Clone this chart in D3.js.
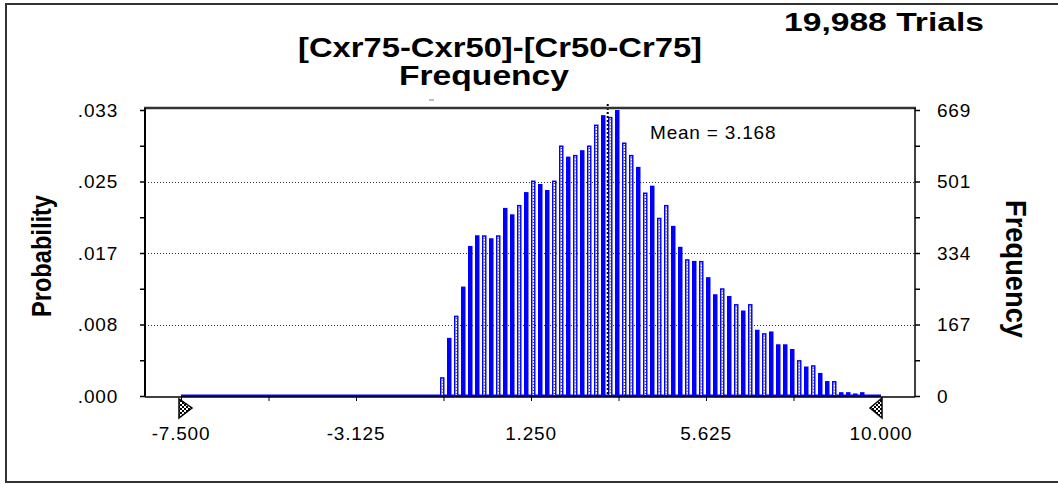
<!DOCTYPE html>
<html>
  <head>
    <meta charset="utf-8">
    <script type="text/javascript" src="https://cdn.jsdelivr.net/npm/d3@7"></script>
    <style>
      body { margin: 0; background: #fff; }
      text { font-family: "Liberation Sans", Arial, sans-serif; fill: #000; }
      .tick-label { font-size: 19px; letter-spacing: 0.8px; }
      .narrow { font-family: "Liberation Sans Narrow", "Liberation Sans", Arial, sans-serif; font-weight: bold; }
    </style>
  </head>
  <body>
    <script type="text/javascript">
      // Simulation summary
      var trials = 19988;
      var chartTitle = "[Cxr75-Cxr50]-[Cr50-Cr75]";
      var chartSubtitle = "Frequency";
      var meanValue = 3.168;

      // 100 bins of width 0.175 from -7.500 to 10.000
      var binStart = -7.5;
      var binEnd = 10;
      var binWidth = 0.175;
      var frequency = [
        0, 0, 0, 0, 0, 0, 0, 0, 0, 0,
        0, 0, 0, 0, 0, 0, 0, 0, 0, 0,
        0, 0, 0, 0, 0, 0, 0, 0, 0, 0,
        0, 0, 0, 0, 0, 0, 0,
        44, 136, 188, 256, 351, 376, 376, 369, 376, 440,
        425, 447, 477, 504, 496, 482, 504, 586, 560, 564,
        575, 586, 635, 657, 653, 669, 593, 564, 536, 476,
        492, 417, 447, 398, 349, 320, 316, 316, 278, 238,
        252, 234, 215, 200, 215, 155, 147, 151, 121, 121,
        110, 84, 69, 72, 54, 35, 35, 9, 9, 6,
        9, 2, 0
      ];

      // Axis labels
      var xTickValues = [-7.5, -3.125, 1.25, 5.625, 10];
      var xTickLabels = ["-7.500", "-3.125", "1.250", "5.625", "10.000"];
      var freqMax = 669;
      var freqLabels = ["0", "167", "334", "501", "669"];
      var probLabels = [".000", ".008", ".017", ".025", ".033"];

      // Bars that the original renders hollow (bin indices)
      var hollowBins = [37, 39, 43, 45, 48, 50, 53, 54, 56, 58, 59, 61, 63, 64,
                        66, 68, 69, 72, 74, 77, 79, 81, 83, 88, 90, 93];

      var width = 1058;
      var height = 484;
      var plot = { left: 145, right: 915, top: 108, bottom: 397 };

      var svg = d3.select("body")
                  .append("svg")
                  .attr("width", width)
                  .attr("height", height);

      // Checkered fill for the range markers
      var pat = svg.append("defs")
                   .append("pattern")
                   .attr("id", "checker")
                   .attr("width", 4)
                   .attr("height", 4)
                   .attr("patternUnits", "userSpaceOnUse");
      pat.append("rect").attr("width", 4).attr("height", 4).attr("fill", "#fff");
      pat.append("rect").attr("width", 2).attr("height", 2).attr("fill", "#000");
      pat.append("rect").attr("x", 2).attr("y", 2).attr("width", 2).attr("height", 2).attr("fill", "#000");

      // Outer frame
      svg.append("rect")
         .attr("x", 6)
         .attr("y", 4)
         .attr("width", width)
         .attr("height", 478)
         .attr("fill", "none")
         .attr("stroke", "#333")
         .attr("stroke-width", 2);

      // Scales
      var x = d3.scaleLinear()
                .domain([binStart, binEnd])
                .range([181, 881]);
      var y = d3.scaleLinear()
                .domain([0, freqMax])
                .range([396, 110]);

      // Tick positions: 8 intervals, labels on every second one
      var yTicks = d3.range(9).map(function(i) { return freqMax * i / 8; });
      var xTicks = d3.range(9).map(function(i) { return binStart + (binEnd - binStart) * i / 8; });

      // Dotted gridlines
      svg.append("g")
         .selectAll("line")
         .data([yTicks[2], yTicks[4], yTicks[6]])
         .enter()
         .append("line")
         .attr("x1", plot.left)
         .attr("x2", plot.right)
         .attr("y1", function(d) { return Math.round(y(d)) + 0.5; })
         .attr("y2", function(d) { return Math.round(y(d)) + 0.5; })
         .attr("stroke", "#333")
         .attr("stroke-width", 1)
         .attr("stroke-dasharray", "1,2");

      // Blue line along the bottom (empty bins)
      svg.append("rect")
         .attr("x", x(binStart))
         .attr("y", 394.5)
         .attr("width", x(binEnd) - x(binStart))
         .attr("height", 2.5)
         .attr("fill", "#0000ff");

      // Bars
      var barW = 4.5;
      var bins = frequency.map(function(v, i) { return { i: i, v: v }; })
                          .filter(function(d) { return d.v > 0; });

      svg.append("g")
         .selectAll("rect")
         .data(bins)
         .enter()
         .append("rect")
         .attr("x", function(d) { return x(binStart + d.i * binWidth); })
         .attr("y", function(d) { return y(d.v); })
         .attr("width", barW)
         .attr("height", function(d) { return y(0) - y(d.v); })
         .attr("fill", "#0000ff");

      // Hollow look for some bars: white core with dark dots
      var hollow = bins.filter(function(d) { return hollowBins.indexOf(d.i) >= 0; });
      var inner = svg.append("g").selectAll("g")
                     .data(hollow)
                     .enter()
                     .append("g");
      inner.append("line")
           .attr("x1", function(d) { return x(binStart + d.i * binWidth) + barW / 2; })
           .attr("x2", function(d) { return x(binStart + d.i * binWidth) + barW / 2; })
           .attr("y1", function(d) { return y(d.v) + 1.5; })
           .attr("y2", y(0) - 1)
           .attr("stroke", "#fff")
           .attr("stroke-width", 1.6);
      inner.append("line")
           .attr("x1", function(d) { return x(binStart + d.i * binWidth) + barW / 2; })
           .attr("x2", function(d) { return x(binStart + d.i * binWidth) + barW / 2; })
           .attr("y1", function(d) { return y(d.v) + 2.5; })
           .attr("y2", y(0) - 1)
           .attr("stroke", "#111")
           .attr("stroke-width", 1)
           .attr("stroke-dasharray", "1,2");

      // Mean line
      svg.append("line")
         .attr("x1", x(meanValue))
         .attr("x2", x(meanValue))
         .attr("y1", 104)
         .attr("y2", y(0))
         .attr("stroke", "#000")
         .attr("stroke-width", 2)
         .attr("stroke-dasharray", "2,2");

      svg.append("text")
         .attr("class", "tick-label")
         .attr("x", 650)
         .attr("y", 139)
         .text("Mean = " + meanValue.toFixed(3));

      // Plot frame
      svg.append("line")
         .attr("x1", plot.left - 1).attr("x2", plot.right + 1)
         .attr("y1", plot.top).attr("y2", plot.top)
         .attr("stroke", "#333").attr("stroke-width", 2.5);
      svg.append("line")
         .attr("x1", plot.left).attr("x2", plot.left)
         .attr("y1", plot.top).attr("y2", plot.bottom)
         .attr("stroke", "#000").attr("stroke-width", 2);
      svg.append("line")
         .attr("x1", plot.right).attr("x2", plot.right)
         .attr("y1", plot.top).attr("y2", plot.bottom)
         .attr("stroke", "#000").attr("stroke-width", 1.5);
      svg.append("line")
         .attr("x1", plot.left).attr("x2", plot.right)
         .attr("y1", plot.bottom).attr("y2", plot.bottom)
         .attr("stroke", "#000").attr("stroke-width", 1.5);

      // small stray mark under the subtitle
      svg.append("line")
         .attr("x1", 429).attr("x2", 434)
         .attr("y1", 100).attr("y2", 100)
         .attr("stroke", "#aaa").attr("stroke-width", 1.5);

      // Left axis: probability
      var yAxisLeft = d3.axisLeft(y)
                        .tickValues(yTicks)
                        .tickSize(5)
                        .tickPadding(22)
                        .tickFormat(function(d, i) { return i % 2 === 0 ? probLabels[i / 2] : ""; });
      svg.append("g")
         .attr("transform", "translate(" + plot.left + ",0)")
         .call(yAxisLeft)
         .call(function(g) { g.select(".domain").remove(); })
         .call(function(g) {
           g.selectAll("line").attr("stroke", "#000").attr("stroke-width", 1.5);
           g.selectAll("text").attr("class", "tick-label").attr("font-family", null).attr("font-size", null);
         });

      // Right axis: frequency
      var yAxisRight = d3.axisRight(y)
                         .tickValues(yTicks)
                         .tickSize(5)
                         .tickPadding(17)
                         .tickFormat(function(d, i) { return i % 2 === 0 ? freqLabels[i / 2] : ""; });
      svg.append("g")
         .attr("transform", "translate(" + plot.right + ",0)")
         .call(yAxisRight)
         .call(function(g) { g.select(".domain").remove(); })
         .call(function(g) {
           g.selectAll("line").attr("stroke", "#000").attr("stroke-width", 1.5);
           g.selectAll("text").attr("class", "tick-label").attr("font-family", null).attr("font-size", null);
         });

      // Bottom axis
      var xAxis = d3.axisBottom(x)
                    .tickValues(xTicks)
                    .tickSize(4)
                    .tickFormat("");
      svg.append("g")
         .attr("transform", "translate(0," + plot.bottom + ")")
         .call(xAxis)
         .call(function(g) { g.select(".domain").remove(); })
         .call(function(g) { g.selectAll("line").attr("stroke", "#000"); });

      svg.append("g")
         .selectAll("text")
         .data(xTickValues)
         .enter()
         .append("text")
         .attr("class", "tick-label")
         .attr("x", function(d) { return x(d); })
         .attr("y", 440)
         .attr("text-anchor", "middle")
         .text(function(d, i) { return xTickLabels[i]; });

      // Range markers
      var markers = [
        [[x(binStart) - 2, 399], [x(binStart) - 2, 418], [x(binStart) + 11, 408]],
        [[x(binEnd) + 1, 398], [x(binEnd) + 1, 418], [x(binEnd) - 11, 408]]
      ];
      svg.append("g")
         .selectAll("path")
         .data(markers)
         .enter()
         .append("path")
         .attr("d", function(d) { return d3.line()(d) + "Z"; })
         .attr("fill", "url(#checker)")
         .attr("stroke", "#000")
         .attr("stroke-width", 1.5);

      // Titles
      svg.append("text")
         .attr("class", "narrow")
         .attr("x", 884)
         .attr("y", 31)
         .attr("text-anchor", "middle")
         .attr("textLength", 200)
         .attr("lengthAdjust", "spacingAndGlyphs")
         .style("font-size", "26px")
         .text(d3.format(",")(trials) + " Trials");
      svg.append("text")
         .attr("class", "narrow")
         .attr("x", 500)
         .attr("y", 57)
         .attr("text-anchor", "middle")
         .attr("textLength", 404)
         .attr("lengthAdjust", "spacingAndGlyphs")
         .style("font-size", "27px")
         .text(chartTitle);
      svg.append("text")
         .attr("class", "narrow")
         .attr("x", 484)
         .attr("y", 85)
         .attr("text-anchor", "middle")
         .attr("textLength", 170)
         .attr("lengthAdjust", "spacingAndGlyphs")
         .style("font-size", "27px")
         .text(chartSubtitle);

      // Axis titles
      svg.append("text")
         .attr("class", "narrow")
         .attr("transform", "translate(51,256) rotate(-90)")
         .attr("text-anchor", "middle")
         .attr("textLength", 122)
         .attr("lengthAdjust", "spacingAndGlyphs")
         .style("font-size", "28px")
         .text("Probability");
      svg.append("text")
         .attr("class", "narrow")
         .attr("transform", "translate(1006,269) rotate(90)")
         .attr("text-anchor", "middle")
         .attr("textLength", 138)
         .attr("lengthAdjust", "spacingAndGlyphs")
         .style("font-size", "30px")
         .text("Frequency");
    </script>
  </body>
</html>
